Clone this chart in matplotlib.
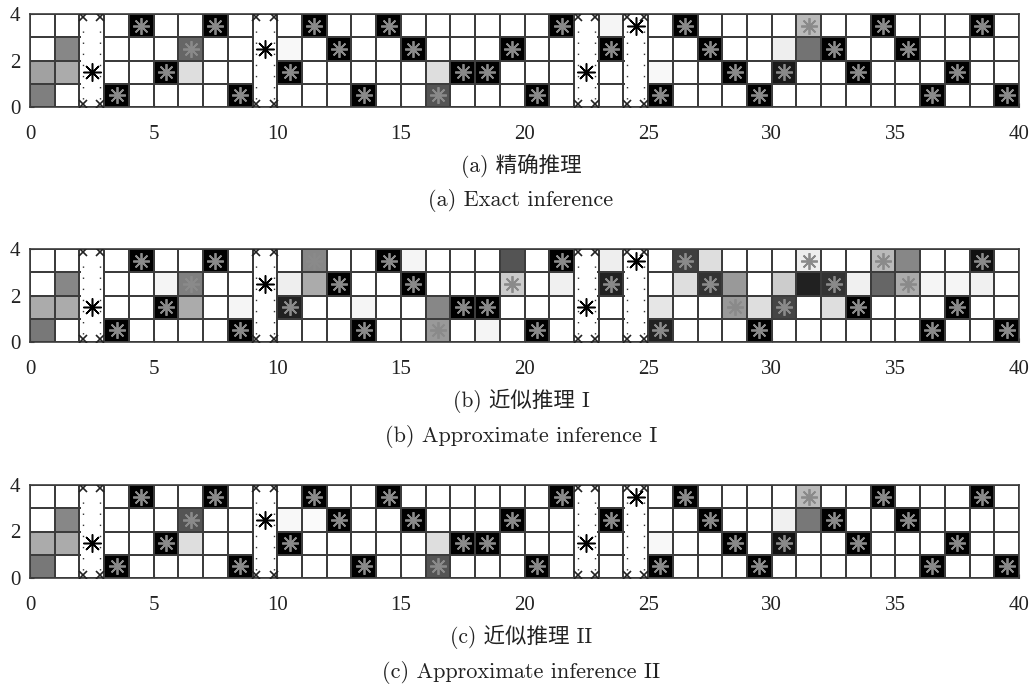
import numpy as np
import matplotlib
matplotlib.use('Agg')
import matplotlib.pyplot as plt
from matplotlib.patches import Rectangle

# obstacle columns (dotted, crossed) and the true row of the target in each column
obstacle_cols = [2, 9, 22, 24]
true_row = [None, None, 1, 0, 3, 1, 2, 3, 0, 2,
            1, 3, 2, 0, 3, 2, 0, 1, 1, 2,
            0, 3, 1, 2, 3, 0, 3, 2, 1, 0,
            1, 3, 2, 1, 3, 2, 0, 1, 3, 0]

# belief per column, rows listed bottom -> top (0 = white, 1 = black)
exact = [
    [0.50, 0.37, 0, 0], [0, 0.33, 0.47, 0], [0, 0, 0, 0], [1, 0, 0, 0], [0, 0, 0, 1],
    [0, 1, 0, 0], [0, 0.13, 0.60, 0], [0, 0, 0, 1], [1, 0, 0, 0], [0, 0, 0, 0],
    [0, 1, 0.03, 0], [0, 0, 0, 1], [0, 0, 1, 0], [1, 0, 0, 0], [0, 0, 0, 1],
    [0, 0, 1, 0], [0.67, 0.13, 0, 0], [0, 1, 0, 0], [0, 1, 0, 0], [0, 0, 1, 0],
    [1, 0, 0, 0], [0, 0, 0, 1], [0, 0, 0, 0], [0, 0, 1, 0.04], [0, 0, 0, 0],
    [1, 0.03, 0, 0], [0, 0, 0, 1], [0, 0, 1, 0], [0, 1, 0, 0], [1, 0, 0, 0],
    [0, 0.90, 0.07, 0], [0, 0, 0.55, 0.27], [0, 0, 1, 0], [0, 1, 0, 0], [0, 0, 0, 1],
    [0, 0, 1, 0], [1, 0, 0, 0], [0, 1, 0, 0], [0, 0, 0, 1], [1, 0, 0, 0],
]
approx1 = [
    [0.53, 0.33, 0, 0], [0, 0.33, 0.47, 0], [0, 0, 0, 0], [1, 0, 0, 0], [0, 0, 0, 1],
    [0, 1, 0.04, 0], [0, 0.33, 0.50, 0], [0, 0, 0, 1], [1, 0.04, 0, 0], [0, 0, 0, 0],
    [0, 0.87, 0.07, 0], [0, 0, 0.33, 0.47], [0, 0, 1, 0], [1, 0.04, 0, 0], [0, 0, 0, 1],
    [0, 0, 1, 0.04], [0.40, 0.47, 0, 0], [0, 1, 0, 0], [0.04, 1, 0, 0], [0, 0, 0.20, 0.67],
    [1, 0, 0, 0], [0, 0, 0.06, 1], [0, 0, 0, 0], [0, 0, 0.87, 0.07], [0, 0, 0, 0],
    [0.87, 0.10, 0, 0], [0, 0, 0.13, 0.75], [0, 0, 0.80, 0.13], [0, 0.40, 0.40, 0], [1, 0.13, 0, 0],
    [0, 0.73, 0.20, 0], [0, 0, 0.87, 0.07], [0, 0.13, 0.80, 0], [0, 1, 0.06, 0], [0, 0, 0.60, 0.27],
    [0, 0, 0.33, 0.47], [1, 0, 0.04, 0], [0, 1, 0.04, 0], [0, 0, 0.06, 0.93], [1, 0, 0, 0],
]
approx2 = [
    [0.53, 0.33, 0, 0], [0, 0.33, 0.47, 0], [0, 0, 0, 0], [1, 0, 0, 0], [0, 0, 0, 1],
    [0, 1, 0, 0], [0, 0.13, 0.67, 0], [0, 0, 0, 1], [1, 0, 0, 0], [0, 0, 0, 0],
    [0, 1, 0.03, 0], [0, 0, 0.02, 1], [0, 0, 1, 0], [1, 0, 0, 0], [0, 0, 0, 1],
    [0, 0, 1, 0], [0.67, 0.13, 0, 0], [0, 1, 0, 0], [0, 1, 0, 0], [0, 0, 1, 0],
    [1, 0, 0, 0], [0, 0, 0, 1], [0, 0, 0, 0], [0, 0, 1, 0], [0, 0, 0, 0],
    [1, 0.03, 0, 0], [0, 0, 0, 1], [0, 0, 1, 0], [0, 1, 0, 0], [1, 0, 0, 0],
    [0, 0.93, 0.06, 0], [0, 0, 0.53, 0.27], [0, 0, 1, 0], [0, 1, 0, 0], [0, 0, 0, 1],
    [0, 0, 1, 0], [1, 0, 0, 0], [0, 1, 0, 0], [0, 0, 0, 1], [1, 0, 0, 0],
]

panels = [exact, approx1, approx2]
captions_cn = ['(a) 精确推理', '(b) 近似推理 I', '(c) 近似推理 II']
captions_en = ['(a) Exact inference', '(b) Approximate inference I', '(c) Approximate inference II']

fig = plt.figure(figsize=(10.33, 6.87), dpi=100)

left, width, height = 30 / 1033, 989 / 1033, 93 / 687
bottoms = [1 - 107 / 687, 1 - 342 / 687, 1 - 578 / 687]
cn_y = [1 - 166 / 687, 1 - 401 / 687, 1 - 637 / 687]
en_y = [1 - 201 / 687, 1 - 436 / 687, 1 - 672 / 687]
line_col = '#3c3c3c'

for k, data in enumerate(panels):
    ax = fig.add_axes([left, bottoms[k], width, height])
    grid = np.array(data).T  # rows x columns
    ax.pcolormesh(np.arange(41), np.arange(5), grid, cmap='gray_r', vmin=0, vmax=1,
                  edgecolors=line_col, linewidth=1.2, zorder=1)

    # obstacle columns
    for c in obstacle_cols:
        ax.add_patch(Rectangle((c + 0.05, 0.03), 0.9, 3.94, facecolor='white',
                               edgecolor='none', zorder=2))
        for xo in (0.15, 0.85):
            ax.plot([c + xo, c + xo], [0.35, 3.65], color='#333333', lw=1.0,
                    ls=(0, (1, 7)), zorder=3)
            ax.plot([c + xo, c + xo], [0.15, 3.85], 'x', color='#222222',
                    ms=6, mew=1.2, ls='none', zorder=3)

    # true positions
    for c, r in enumerate(true_row):
        if r is None:
            continue
        if c in obstacle_cols:
            ax.plot(c + 0.5, r + 0.5, marker=(8, 2, 0), color='black', ms=13,
                    mew=1.1, zorder=4)
            ax.plot(c + 0.5, r + 0.5, marker='s', color='black', ms=3.5, zorder=5)
        else:
            ax.plot(c + 0.5, r + 0.5, marker=(8, 2, 0), color='#8a8a8a', ms=12,
                    mew=1.3, zorder=4)

    ax.set_xlim(0, 40)
    ax.set_ylim(0, 4)
    ax.set_xticks(range(0, 41, 5))
    ax.set_yticks([0, 2, 4])
    for s in ax.spines.values():
        s.set_color(line_col)
        s.set_linewidth(1.2)
    ax.tick_params(axis='both', direction='in', length=3, color=line_col,
                   labelsize=15, labelcolor='#222222')
    ax.tick_params(axis='x', pad=13)
    ax.tick_params(axis='y', pad=7)
    for lab in ax.get_xticklabels() + ax.get_yticklabels():
        lab.set_fontfamily('Liberation Serif')

    fig.text(521 / 1033, cn_y[k], captions_cn[k], ha='center', va='center',
             fontsize=15.5, family=['cmr10', 'Noto Sans CJK SC'], color='#222222')
    fig.text(521 / 1033, en_y[k], captions_en[k], ha='center', va='center',
             fontsize=16, family=['cmr10', 'DejaVu Serif'], color='#222222')

fig.savefig('out.png', dpi=100)
